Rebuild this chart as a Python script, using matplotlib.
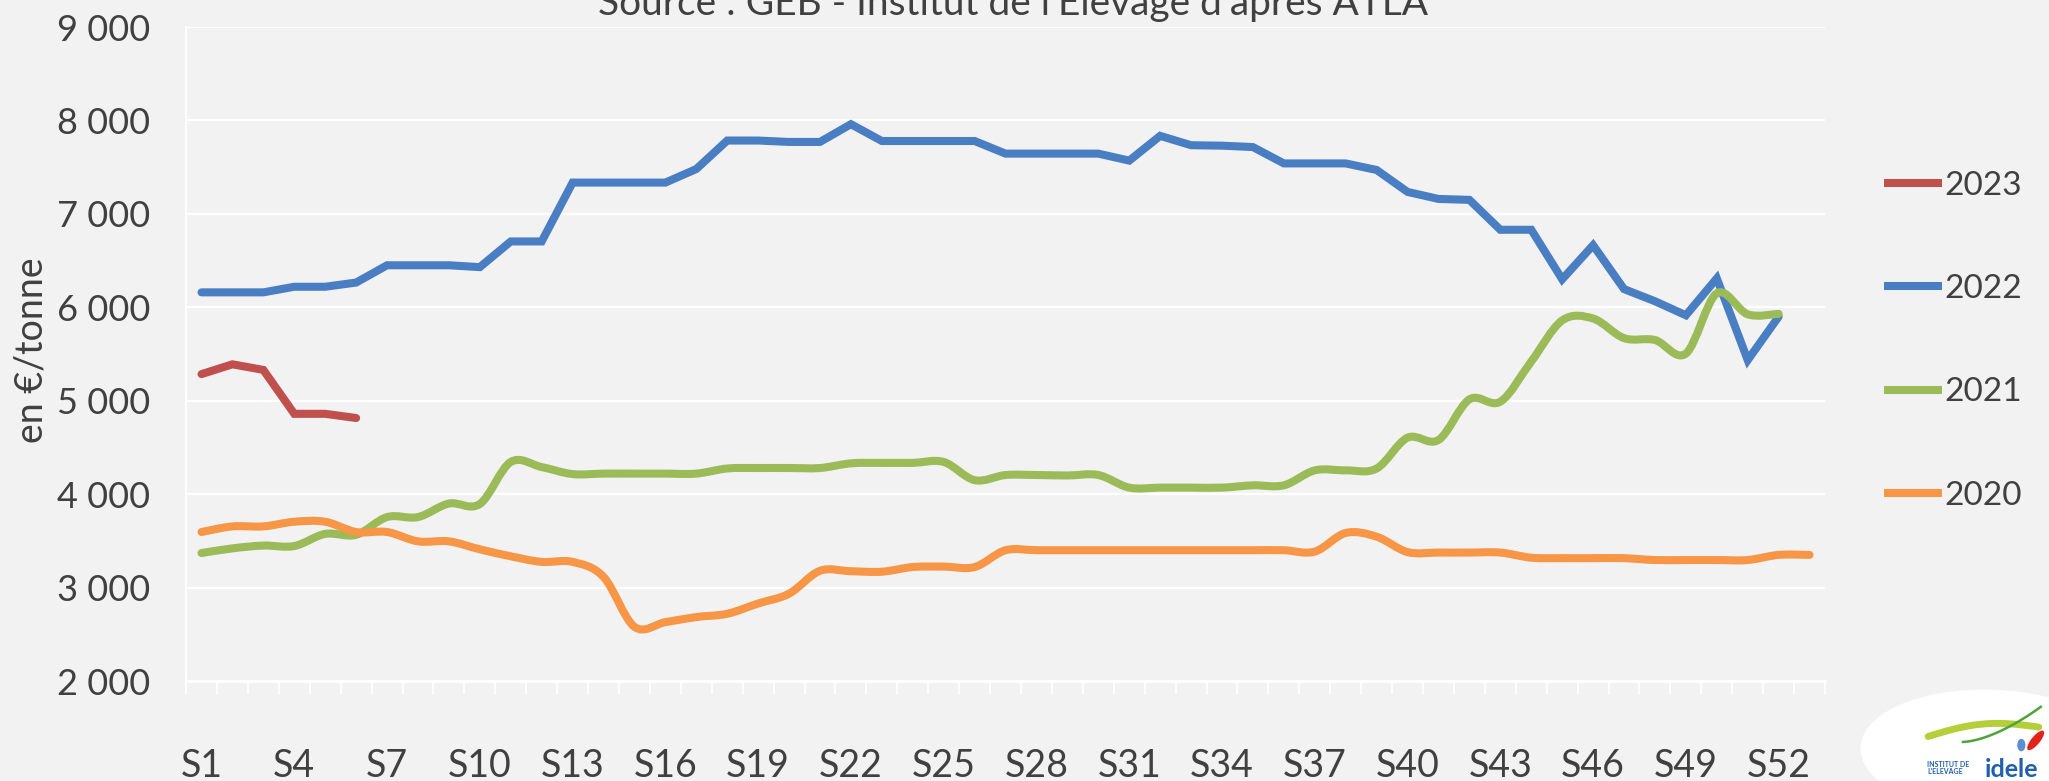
import numpy as np
import matplotlib
matplotlib.use("Agg")
import matplotlib.pyplot as plt
from matplotlib.path import Path
from matplotlib.patches import PathPatch, Ellipse
from matplotlib.lines import Line2D

# weekly prices, en euros par tonne
weeks = np.arange(1, 54)
week_labels = [f"S{w}" for w in range(1, 53, 3)]

prix_2023 = [5285, 5390, 5330, 4860, 4860, 4815]

prix_2022 = [6160, 6160, 6160, 6220, 6220, 6265, 6450, 6450, 6450, 6430,
             6705, 6705, 7335, 7335, 7335, 7335, 7480, 7785, 7785, 7770,
             7770, 7960, 7780, 7780, 7780, 7780, 7645, 7645, 7645, 7645,
             7570, 7835, 7735, 7730, 7715, 7540, 7540, 7540, 7470, 7235,
             7160, 7150, 6830, 6830, 6300, 6665, 6195, 6065, 5915, 6310,
             5435, 5900]

prix_2021 = [3370, 3420, 3450, 3445, 3575, 3565, 3755, 3755, 3900, 3895,
             4345, 4290, 4215, 4220, 4220, 4220, 4220, 4275, 4280, 4280,
             4280, 4330, 4335, 4335, 4345, 4150, 4205, 4205, 4200, 4205,
             4070, 4070, 4070, 4070, 4095, 4095, 4255, 4255, 4275, 4605,
             4580, 5015, 4990, 5420, 5860, 5880, 5670, 5650, 5505, 6150,
             5925, 5930]

prix_2020 = [3595, 3655, 3655, 3705, 3705, 3595, 3595, 3495, 3495, 3410,
             3335, 3275, 3275, 3115, 2580, 2630, 2685, 2720, 2830, 2935,
             3180, 3175, 3170, 3220, 3225, 3220, 3400, 3400, 3400, 3400,
             3400, 3400, 3400, 3400, 3400, 3400, 3385, 3585, 3545, 3380,
             3375, 3375, 3375, 3320, 3315, 3315, 3315, 3295, 3295, 3295,
             3295, 3350, 3350]

years = ["2023", "2022", "2021", "2020"]
series = [prix_2023, prix_2022, prix_2021, prix_2020]
colors = ["#C0504D", "#4A7EC2", "#9BBB59", "#F79646"]
smoothed = [False, False, True, True]

BG = "#F2F2F2"
TXT = "#404040"
LW = 5.8

plt.rcParams['font.family'] = ['Lato', 'DejaVu Sans']


def smooth_path(x, y):
    # bezier curve through the points, like excel's smoothed lines
    verts = [(x[0], y[0])]
    codes = [Path.MOVETO]
    n = len(x)
    for i in range(n - 1):
        xp, yp = (x[i - 1], y[i - 1]) if i > 0 else (x[i], y[i])
        xn, yn = (x[i + 2], y[i + 2]) if i + 2 < n else (x[i + 1], y[i + 1])
        c1 = (x[i] + (x[i + 1] - xp) / 6, y[i] + (y[i + 1] - yp) / 6)
        c2 = (x[i + 1] - (xn - x[i]) / 6, y[i + 1] - (yn - y[i]) / 6)
        verts += [c1, c2, (x[i + 1], y[i + 1])]
        codes += [Path.CURVE4] * 3
    return Path(verts, codes)


def draw_logo(fig):
    # small "idele" logo in the bottom right corner
    fig.patches.append(Ellipse((0.9736, 0.035), 0.13, 0.165, angle=10,
                               transform=fig.transFigure,
                               facecolor="white", edgecolor="none", zorder=1))
    t = np.linspace(0, 1, 40)
    fig.lines.append(Line2D(0.941 + 0.054 * t, 0.057 + 0.010 * np.sin(np.pi * t) + 0.012 * t,
                            transform=fig.transFigure, color="#B5CF3A", lw=5,
                            solid_capstyle="round"))
    fig.lines.append(Line2D(0.958 + 0.038 * t, 0.050 + 0.045 * t ** 1.6,
                            transform=fig.transFigure, color="#4FA33A", lw=1.8))
    fig.patches.append(Ellipse((0.9935, 0.052), 0.005, 0.026, angle=-15,
                               transform=fig.transFigure, facecolor="#E2231A",
                               edgecolor="none"))
    fig.patches.append(Ellipse((0.9865, 0.046), 0.004, 0.016,
                               transform=fig.transFigure, facecolor="#5B8FD0",
                               edgecolor="none"))
    fig.text(0.9405, 0.008, "INSTITUT DE\nL'ELEVAGE", fontsize=5, color="#1F5FAE",
             fontweight="bold", linespacing=0.95, va="bottom")
    fig.text(0.9685, 0.0, "idele", fontsize=18, color="#1F5FAE", fontweight="bold",
             va="bottom")


fig = plt.figure(figsize=(20.49, 7.81), dpi=100, facecolor=BG)
ax = fig.add_axes([0.0908, 0.128, 0.7999, 0.8374], facecolor=BG)

handles = []
for k, (year, vals, col, smooth) in enumerate(zip(years, series, colors, smoothed)):
    x = weeks[:len(vals)]
    if smooth:
        patch = PathPatch(smooth_path(x, vals), facecolor="none", edgecolor=col, lw=LW,
                          capstyle="round", joinstyle="round", zorder=3 + k)
        ax.add_patch(patch)
    else:
        ax.plot(x, vals, color=col, lw=LW, solid_capstyle="round",
                solid_joinstyle="miter", zorder=3 + k)
    handles.append(Line2D([], [], color=col, lw=LW, solid_capstyle="butt"))

ax.set_xlim(0.5, 53.5)
ax.set_ylim(2000, 9000)

# y axis
ax.set_yticks(np.arange(2000, 9001, 1000))
ax.set_yticklabels([f"{v // 1000} 000" for v in range(2000, 9001, 1000)])
ax.tick_params(axis="y", length=0, pad=26, labelsize=26, labelcolor=TXT)
ax.grid(axis="y", color="white", lw=1.6, zorder=1)

# x axis: labels every 3 weeks, tick marks between categories
ax.set_xticks(np.arange(1, 53, 3))
ax.set_xticklabels(week_labels)
ax.set_xticks(np.arange(0.5, 54, 1), minor=True)
ax.tick_params(axis="x", which="major", length=0, pad=48, labelsize=27, labelcolor=TXT)
ax.tick_params(axis="x", which="minor", length=9.5, width=1.3, color="white", direction="out")

for side in ["top", "right"]:
    ax.spines[side].set_visible(False)
ax.spines["left"].set_color("white")
ax.spines["left"].set_linewidth(1.5)
ax.spines["bottom"].set_color("white")
ax.spines["bottom"].set_linewidth(2)

fig.text(0.0156, 0.552, "en €/tonne", rotation=90, ha="center", va="center",
         fontsize=27, color=TXT)
fig.text(0.4944, 0.9808, "Source : GEB - Institut de l'Elevage d'après ATLA",
         ha="center", va="baseline", fontsize=28, color=TXT)

fig.legend(handles, years, loc="center left", bbox_to_anchor=(0.9195, 0.564),
           frameon=False, fontsize=24, labelcolor=TXT, handlelength=1.75,
           handletextpad=0.05, labelspacing=2.2, borderpad=0, borderaxespad=0)

draw_logo(fig)

fig.savefig("out.png", dpi=100, facecolor=BG)
